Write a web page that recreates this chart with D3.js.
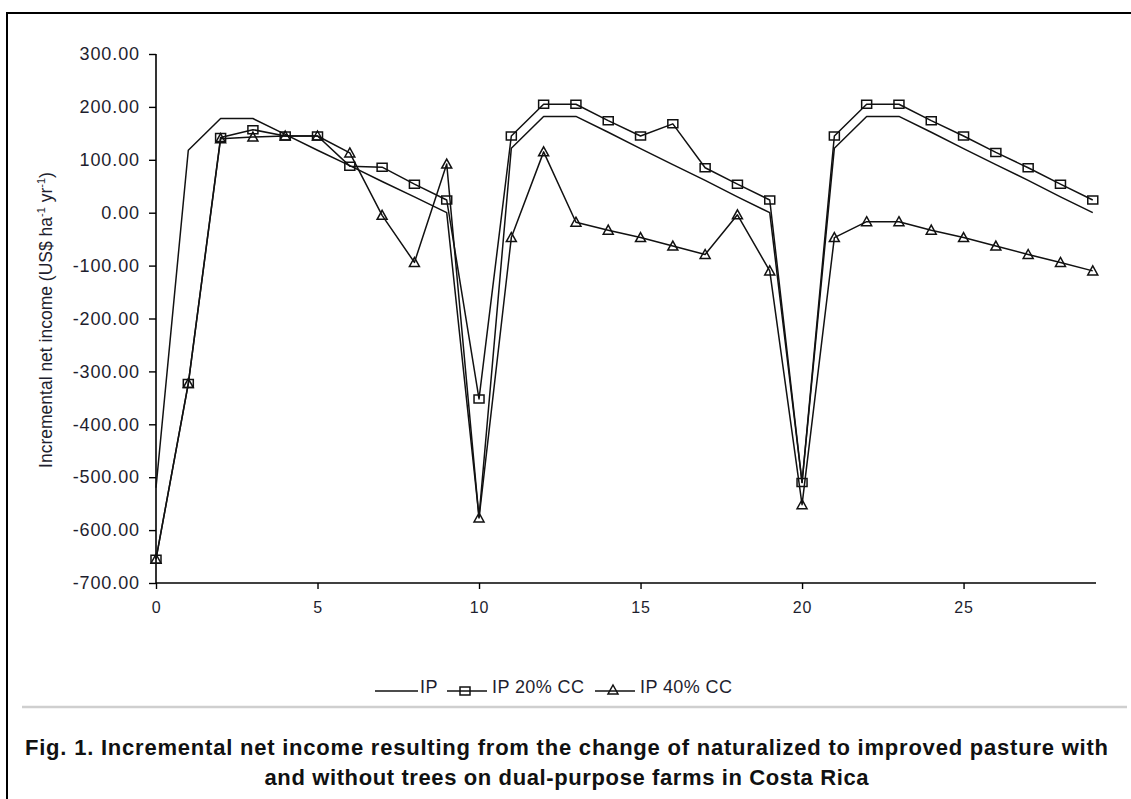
<!DOCTYPE html>
<html>
<head>
<meta charset="utf-8">
<script src="https://cdn.jsdelivr.net/npm/d3@7"></script>
<style>
  html, body { margin: 0; padding: 0; background: #fff; }
  svg { display: block; }
</style>
</head>
<body>
<svg id="chart" width="1131" height="799"></svg>
<script>
// ---- data ----
const years = [0,1,2,3,4,5,6,7,8,9,10,11,12,13,14,15,16,17,18,19,20,21,22,23,24,25,26,27,28,29];
const ip    = [-520,118,178,178,148,118,89,59,30,0,-575,122,182,182,152,121,91,61,30,0,-510,122,182,182,152,121,91,61,30,0];
const ip20  = [-655,-323,142,157,145,145,88,86,54,24,-352,145,205,205,174,145,168,85,54,24,-510,145,205,205,174,145,114,85,54,24];
const ip40  = [-655,-323,140,143,145,145,113,-5,-94,92,-577,-47,115,-18,-33,-47,-63,-79,-4,-110,-552,-47,-17,-17,-33,-47,-63,-79,-94,-110];
const yTicks = [300,200,100,0,-100,-200,-300,-400,-500,-600,-700];
const xTicks = [0,5,10,15,20,25];
const seriesNames = ["IP", "IP 20% CC", "IP 40% CC"];
const captionLines = [
  "Fig. 1. Incremental net income resulting from the change of naturalized to improved pasture with",
  "and without trees on dual-purpose farms in Costa Rica"
];

const svg = d3.select("#chart");
const font = "'Liberation Sans', Arial, sans-serif";
const textColor = "#1e1e2e";

// frame
svg.append("rect").attr("x", 7).attr("y", 13).attr("width", 1140).attr("height", 820)
  .attr("fill", "none").attr("stroke", "#000").attr("stroke-width", 2);

const x = d3.scaleLinear().domain([0, 29.1]).range([156, 1096]);
const y = d3.scaleLinear().domain([-700, 300]).range([583, 54]);

// axes
const fmtY = d => d.toFixed(2);
const yAxis = svg.append("g").attr("transform", `translate(${x(0)},0)`)
  .call(d3.axisLeft(y).tickValues(yTicks).tickSize(7).tickPadding(9).tickFormat(fmtY));
const xAxis = svg.append("g").attr("transform", `translate(0,${y(-700)})`)
  .call(d3.axisBottom(x).tickValues(xTicks).tickSize(6).tickPadding(13).tickFormat(d => String(d)));
[yAxis, xAxis].forEach(a => {
  a.select(".domain").attr("stroke", "#000").attr("stroke-width", 1.6);
  a.selectAll(".tick line").attr("stroke", "#000").attr("stroke-width", 1.4);
});
yAxis.selectAll(".tick text").attr("font-family", font).attr("font-size", 18)
  .attr("letter-spacing", "0.9px").attr("fill", textColor);
xAxis.selectAll(".tick text").attr("font-family", font).attr("font-size", 16)
  .attr("letter-spacing", "0.8px").attr("fill", textColor);
yAxis.select(".domain").attr("d", `M0,${y(300)}V${y(-700)}`);
xAxis.select(".domain").attr("d", `M${x(0)},0H${x(29.1)}`);

// y label
const yl = svg.append("text")
  .attr("transform", `translate(52,320) rotate(-90)`)
  .attr("text-anchor", "middle")
  .attr("font-family", font).attr("font-size", 17.5).attr("fill", textColor);
yl.append("tspan").text("Incremental net income (US$ ha");
yl.append("tspan").attr("font-size", 11).attr("dy", -7).text("-1");
yl.append("tspan").attr("dy", 7).text(" yr");
yl.append("tspan").attr("font-size", 11).attr("dy", -7).text("-1");
yl.append("tspan").attr("dy", 7).text(")");

// lines
const line = d3.line().x((d, i) => x(years[i])).y(d => y(d));
const all = [ip, ip20, ip40];
all.forEach(s => {
  svg.append("path").datum(s).attr("d", line)
    .attr("fill", "none").attr("stroke", "#111").attr("stroke-width", 1.5)
    .attr("stroke-linejoin", "round");
});

// markers
const sq = (cx, cy) => `M${cx-5},${cy-4}h10v8h-10z`;
const tri = (cx, cy) => `M${cx},${cy-5}L${cx+5},${cy+4}L${cx-5},${cy+4}z`;
svg.append("g").selectAll("path").data(ip20).join("path")
  .attr("d", (d, i) => sq(x(years[i]), y(d)))
  .attr("fill", "none").attr("stroke", "#111").attr("stroke-width", 1.5);
svg.append("g").selectAll("path").data(ip40).join("path")
  .attr("d", (d, i) => tri(x(years[i]), y(d)))
  .attr("fill", "none").attr("stroke", "#111").attr("stroke-width", 1.5);

// legend
const legY = 691;
const leg = [
  {x0: 375, x1: 418, tx: 420, marker: null},
  {x0: 447, x1: 487, tx: 492, marker: "sq"},
  {x0: 595, x1: 635, tx: 640, marker: "tri"}
];
leg.forEach((l, i) => {
  svg.append("line").attr("x1", l.x0).attr("x2", l.x1).attr("y1", legY).attr("y2", legY)
    .attr("stroke", "#111").attr("stroke-width", 1.5);
  const cx = (l.x0 + l.x1) / 2 - 2;
  if (l.marker === "sq") svg.append("path").attr("d", sq(cx, legY)).attr("fill", "none").attr("stroke", "#111").attr("stroke-width", 1.5);
  if (l.marker === "tri") svg.append("path").attr("d", tri(cx, legY - 1)).attr("fill", "none").attr("stroke", "#111").attr("stroke-width", 1.5);
  svg.append("text").attr("x", l.tx).attr("y", 693).attr("font-family", font).attr("font-size", 18)
    .attr("letter-spacing", "0.4px").attr("fill", textColor).text(seriesNames[i]);
});

// separator
svg.append("line").attr("x1", 22).attr("x2", 1127).attr("y1", 707).attr("y2", 707)
  .attr("stroke", "#cfcfcf").attr("stroke-width", 2.5);

// caption
const capLen = [1083, 604];
captionLines.forEach((t, i) => {
  svg.append("text").attr("x", 566.5).attr("y", 755 + i * 30)
    .attr("text-anchor", "middle").attr("font-family", font).attr("font-weight", "bold")
    .attr("font-size", 22).attr("textLength", capLen[i]).attr("lengthAdjust", "spacing")
    .attr("fill", "#111").text(t);
});
</script>
</body>
</html>
